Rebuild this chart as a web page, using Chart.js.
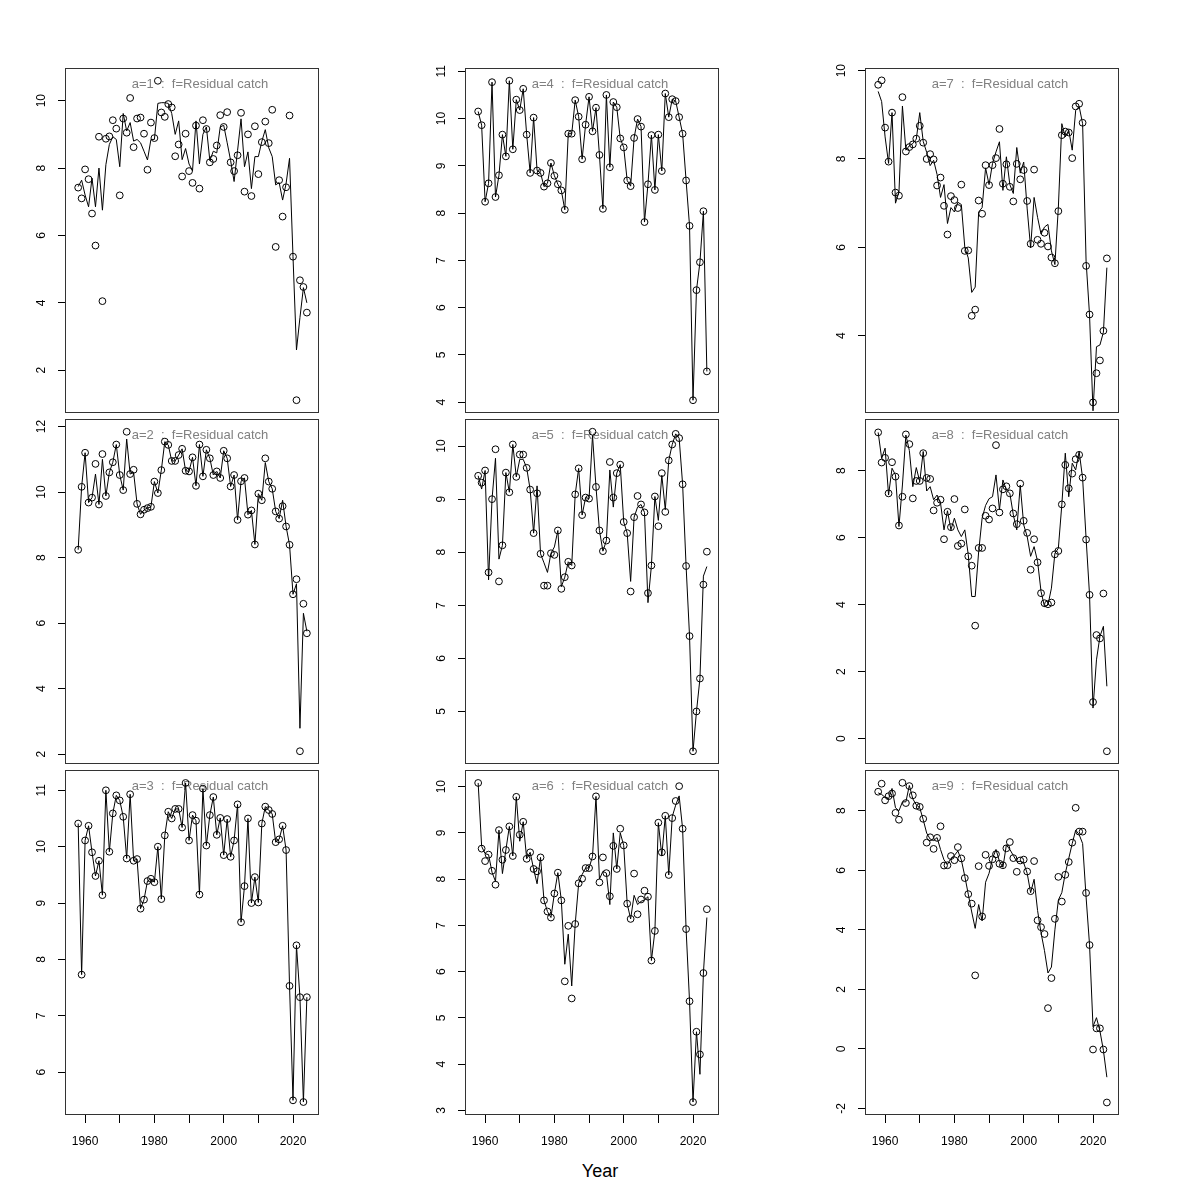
<!DOCTYPE html>
<html>
<head>
<meta charset="utf-8">
<script src="https://cdn.jsdelivr.net/npm/chart.js@4.4.1/dist/chart.umd.min.js"></script>
<style>
  html, body { margin: 0; padding: 0; background: #fff; }
  #page { position: relative; width: 1200px; height: 1200px; overflow: hidden; }
  #page canvas { position: absolute; }
  #xtitle { position: absolute; left: 0; width: 1200px; top: 1161px; text-align: center;
            font: 18px "Liberation Sans", Arial, sans-serif; color: #000; }
</style>
</head>
<body>
<div id="page">
  <div id="xtitle">Year</div>
</div>
<script>
// 年份
const years = [1958, 1959, 1960, 1961, 1962, 1963, 1964, 1965, 1966, 1967,
  1968, 1969, 1970, 1971, 1972, 1973, 1974, 1975, 1976, 1977,
  1978, 1979, 1980, 1981, 1982, 1983, 1984, 1985, 1986, 1987,
  1988, 1989, 1990, 1991, 1992, 1993, 1994, 1995, 1996, 1997,
  1998, 1999, 2000, 2001, 2002, 2003, 2004, 2005, 2006, 2007,
  2008, 2009, 2010, 2011, 2012, 2013, 2014, 2015, 2016, 2017,
  2018, 2019, 2020, 2021, 2022, 2023, 2024];

const xTicks = [1960, 1970, 1980, 1990, 2000, 2010, 2020];
const xLabels = ['1960', '', '1980', '', '2000', '', '2020'];

// a=1
const obs1 = [7.42, 7.10, 7.96, 7.67, 6.65, 5.70, 8.93, 4.05, 8.87, 8.94,
  9.42, 9.17, 7.19, 9.47, 9.05, 10.08, 8.62, 9.47, 9.50, 9.02,
  7.95, 9.35, 8.89, 10.59, 9.65, 9.52, 9.90, 9.80, 8.35, 8.70,
  7.75, 9.02, 7.91, 7.56, 9.26, 7.39, 9.42, 9.16, 8.17, 8.27,
  8.67, 9.57, 9.22, 9.66, 8.17, 7.91, 8.38, 9.64, 7.30, 9.00,
  7.17, 9.24, 7.82, 8.77, 9.38, 8.74, 9.73, 5.66, 7.64, 6.56,
  7.43, 9.56, 5.37, 1.11, 4.67, 4.47, 3.71];
const fit1 = [7.45, 7.64, 7.2, 6.85, 7.7, 6.85, 8.0, 6.75, 8.1, 8.7,
  8.93, 8.85, 8.04, 9.62, 9.1, 9.35, 8.8, 8.85, 8.75, 8.5,
  8.24, 8.85, 8.85, 9.92, 9.94, 9.94, 9.92, 9.62, 9.0, 9.4,
  8.25, 8.58, 8.12, 7.92, 9.4, 8.12, 9.0, 9.22, 8.22, 8.5,
  8.45, 9.22, 9.27, 8.75, 8.22, 7.6, 8.52, 9.46, 8.04, 8.48,
  7.39, 8.34, 8.34, 8.79, 9.14, 8.6, 8.34, 7.5, 7.57, 7.05,
  7.54, 8.29, 5.37, 2.6, 3.56, 4.45, 4.0];

// a=2
const obs2 = [8.24, 10.16, 11.20, 9.68, 9.83, 10.86, 9.62, 11.16, 9.88, 10.60,
  10.91, 11.45, 10.52, 10.06, 11.84, 10.55, 10.68, 9.64, 9.32, 9.46,
  9.51, 9.55, 10.32, 9.97, 10.67, 11.54, 11.44, 10.95, 10.95, 11.13,
  11.32, 10.65, 10.63, 11.06, 10.19, 11.45, 10.48, 11.29, 11.03, 10.52,
  10.63, 10.43, 11.26, 11.03, 10.17, 10.52, 9.15, 10.33, 10.43, 9.31,
  9.44, 8.40, 9.95, 9.75, 11.03, 10.32, 10.10, 9.41, 9.19, 9.57,
  8.95, 8.39, 6.88, 7.34, 2.09, 6.59, 5.69];
const fit2 = [8.24, 10.16, 11.20, 9.68, 9.83, 10.55, 9.62, 11.0, 9.88, 10.60,
  10.91, 11.45, 10.52, 10.06, 11.62, 10.55, 10.60, 9.64, 9.32, 9.46,
  9.51, 9.55, 10.32, 9.97, 10.67, 11.54, 11.44, 10.95, 10.95, 11.13,
  11.32, 10.65, 10.63, 11.06, 10.19, 11.45, 10.48, 11.29, 11.03, 10.52,
  10.63, 10.43, 11.26, 11.03, 10.17, 10.52, 9.15, 10.33, 10.43, 9.31,
  9.44, 8.40, 9.95, 9.75, 10.9, 10.32, 10.10, 9.41, 9.19, 9.75,
  8.95, 8.39, 6.88, 7.2, 2.79, 6.30, 5.75];

// a=3
const obs3 = [10.41, 7.73, 10.11, 10.37, 9.90, 9.48, 9.75, 9.14, 11.00, 9.91,
  10.59, 10.91, 10.82, 10.53, 9.79, 10.93, 9.75, 9.78, 8.90, 9.06,
  9.39, 9.43, 9.37, 10.00, 9.07, 10.20, 10.62, 10.50, 10.67, 10.67,
  10.34, 11.13, 10.11, 10.56, 10.46, 9.15, 11.03, 10.02, 10.56, 10.88,
  10.21, 10.51, 9.85, 10.49, 9.82, 10.11, 10.75, 8.66, 9.30, 10.50,
  9.00, 9.46, 9.01, 10.41, 10.71, 10.65, 10.58, 10.08, 10.13, 10.37,
  9.94, 7.53, 5.50, 8.25, 7.33, 5.47, 7.33];
const fit3 = [10.41, 7.73, 10.11, 10.37, 9.90, 9.48, 9.75, 9.14, 11.00, 9.91,
  10.59, 10.91, 10.82, 10.53, 9.79, 10.93, 9.75, 9.78, 8.90, 9.06,
  9.39, 9.43, 9.37, 10.00, 9.07, 10.20, 10.62, 10.50, 10.67, 10.67,
  10.34, 11.13, 10.11, 10.56, 10.46, 9.15, 11.03, 10.02, 10.56, 10.88,
  10.21, 10.51, 9.85, 10.49, 9.82, 10.11, 10.75, 8.66, 9.30, 10.50,
  9.00, 9.46, 9.01, 10.41, 10.71, 10.65, 10.58, 10.08, 10.13, 10.37,
  9.94, 7.53, 5.50, 8.25, 7.33, 5.47, 7.33];

// a=4
const obs4 = [10.15, 9.86, 8.24, 8.63, 10.77, 8.34, 8.80, 9.66, 9.20, 10.80,
  9.35, 10.40, 10.18, 10.63, 9.66, 8.85, 10.02, 8.90, 8.85, 8.56,
  8.63, 9.06, 8.79, 8.61, 8.48, 8.07, 9.68, 9.68, 10.39, 10.04,
  9.14, 9.87, 10.46, 9.73, 10.23, 9.23, 8.09, 10.50, 8.97, 10.35,
  10.24, 9.58, 9.39, 8.69, 8.57, 9.59, 9.99, 9.83, 7.81, 8.61,
  9.65, 8.49, 9.66, 8.89, 10.53, 10.03, 10.41, 10.37, 10.03, 9.68,
  8.69, 7.73, 4.04, 6.37, 6.96, 8.04, 4.65];
const fit4 = [10.15, 9.86, 8.24, 8.63, 10.77, 8.34, 8.80, 9.66, 9.20, 10.80,
  9.35, 10.40, 10.18, 10.63, 9.66, 8.85, 10.02, 8.90, 8.85, 8.56,
  8.63, 9.06, 8.79, 8.61, 8.48, 8.07, 9.68, 9.68, 10.39, 10.04,
  9.14, 9.87, 10.46, 9.73, 10.23, 9.23, 8.09, 10.50, 8.97, 10.35,
  10.24, 9.58, 9.39, 8.69, 8.57, 9.59, 9.99, 9.83, 7.81, 8.61,
  9.65, 8.49, 9.66, 8.89, 10.53, 10.03, 10.41, 10.37, 10.03, 9.68,
  8.69, 7.73, 4.04, 6.37, 6.96, 8.04, 4.65];

// a=5
const obs5 = [9.44, 9.31, 9.54, 7.62, 9.00, 9.94, 7.45, 8.13, 9.50, 9.13,
  10.03, 9.42, 9.84, 9.84, 9.59, 9.18, 8.36, 9.11, 7.97, 7.37,
  7.37, 7.98, 7.95, 8.41, 7.31, 7.53, 7.82, 7.75, 9.09, 9.58,
  8.70, 9.03, 9.01, 10.27, 9.23, 8.41, 8.02, 8.22, 9.70, 9.03,
  9.49, 9.65, 8.57, 8.36, 7.26, 8.66, 9.06, 8.90, 8.75, 7.23,
  7.75, 9.05, 8.49, 9.49, 8.76, 9.73, 10.03, 10.23, 10.15, 9.28,
  7.74, 6.42, 4.25, 5.00, 5.62, 7.39, 8.01];
const fit5 = [9.44, 9.19, 9.54, 7.48, 9.0, 9.77, 7.87, 8.13, 9.50, 9.13,
  10.03, 9.42, 9.75, 9.75, 9.59, 9.18, 8.36, 9.25, 7.97, 7.8,
  7.62, 7.98, 8.1, 8.41, 7.35, 7.53, 7.82, 7.75, 9.09, 9.58,
  8.70, 9.03, 9.01, 10.2, 9.23, 8.41, 8.02, 8.22, 9.55, 8.85,
  9.49, 9.65, 8.57, 8.36, 7.45, 8.66, 8.85, 8.90, 8.75, 7.05,
  7.75, 9.05, 8.6, 9.45, 8.8, 9.73, 10.03, 10.23, 10.15, 9.28,
  7.74, 6.42, 4.25, 5.00, 5.62, 7.55, 7.73];

// a=6
const obs6 = [10.08, 8.66, 8.39, 8.53, 8.18, 7.88, 9.06, 8.42, 8.63, 9.14,
  8.50, 9.78, 8.96, 9.24, 8.44, 8.58, 8.22, 8.17, 8.47, 7.54,
  7.30, 7.17, 7.69, 8.14, 7.54, 5.79, 6.99, 5.42, 7.03, 7.91,
  8.01, 8.24, 8.24, 8.49, 9.79, 7.93, 8.47, 8.13, 7.63, 8.72,
  8.22, 9.09, 8.73, 7.47, 7.14, 8.12, 7.24, 7.56, 7.75, 7.62,
  6.24, 6.88, 9.22, 8.58, 9.37, 8.09, 9.32, 9.69, 10.01, 9.09,
  6.92, 5.36, 3.18, 4.70, 4.21, 5.97, 7.35];
const fit6 = [10.08, 8.71, 8.55, 8.53, 8.15, 7.95, 9.06, 8.12, 8.63, 9.14,
  8.5, 9.78, 8.82, 9.24, 8.44, 8.58, 8.22, 7.9, 8.47, 7.54,
  7.30, 7.17, 7.69, 8.14, 7.54, 6.16, 6.81, 5.69, 7.03, 7.91,
  8.1, 8.24, 8.24, 8.49, 9.79, 8.0, 8.17, 8.13, 7.45, 9.0,
  8.22, 9.0, 8.73, 7.47, 7.14, 7.65, 7.45, 7.52, 7.55, 7.62,
  6.24, 6.88, 9.22, 8.5, 9.37, 8.09, 9.35, 9.6, 9.8, 9.09,
  6.92, 5.36, 3.18, 4.70, 3.78, 5.97, 7.17];

// a=7
const obs7 = [9.68, 9.78, 8.71, 7.94, 9.05, 7.24, 7.17, 9.40, 8.17, 8.27,
  8.33, 8.46, 8.75, 8.37, 8.00, 8.11, 7.99, 7.40, 7.58, 6.94,
  6.29, 7.16, 7.07, 6.89, 7.42, 5.92, 5.93, 4.45, 4.59, 7.06,
  6.76, 7.86, 7.41, 7.86, 8.02, 8.68, 7.44, 7.88, 7.37, 7.04,
  7.89, 7.54, 7.75, 7.05, 6.08, 7.76, 6.17, 6.08, 6.33, 6.02,
  5.77, 5.64, 6.82, 8.54, 8.62, 8.60, 8.02, 9.19, 9.25, 8.82,
  5.58, 4.48, 2.49, 3.15, 3.44, 4.11, 5.75];
const fit7 = [9.53, 9.3, 8.5, 7.9, 9.05, 7.0, 7.25, 9.2, 8.2, 8.3,
  8.35, 8.45, 9.05, 8.4, 8.15, 7.85, 7.97, 7.65, 7.13, 7.42,
  6.54, 6.9, 6.8, 7.02, 6.97, 6.0, 5.76, 4.98, 5.1, 6.8,
  6.9, 7.8, 7.42, 7.9, 8.16, 8.39, 7.29, 8.05, 7.42, 7.22,
  8.26, 7.68, 7.93, 6.87, 5.99, 7.13, 6.68, 6.3, 6.46, 6.52,
  5.92, 5.61, 6.9, 8.8, 8.5, 8.65, 8.2, 9.1, 9.19, 8.8,
  5.69, 4.47, 2.3, 3.75, 3.79, 4.08, 5.54];

// a=8
const obs8 = [9.14, 8.24, 8.38, 7.32, 8.25, 7.82, 6.36, 7.22, 9.08, 8.79,
  7.17, 7.69, 7.69, 8.52, 7.78, 7.75, 6.81, 7.04, 7.13, 5.95,
  6.77, 6.31, 7.15, 5.75, 5.82, 6.84, 5.44, 5.16, 3.37, 5.69,
  5.69, 6.65, 6.54, 6.87, 8.76, 6.75, 7.44, 7.53, 7.32, 6.72,
  6.40, 7.61, 6.50, 6.14, 5.04, 5.95, 5.26, 4.34, 4.04, 4.01,
  4.06, 5.50, 5.60, 6.99, 8.17, 7.47, 7.91, 8.34, 8.47, 7.79,
  5.94, 4.29, 1.09, 3.09, 2.99, 4.33, -0.38];
const fit8 = [9.14, 8.37, 8.67, 7.27, 8.07, 7.87, 6.33, 7.57, 9.06, 8.6,
  7.52, 8.09, 7.67, 8.57, 7.39, 7.52, 7.13, 7.27, 7.03, 6.23,
  6.8, 6.23, 6.58, 6.23, 6.03, 6.23, 5.49, 4.24, 4.24, 5.58,
  6.58, 6.96, 7.16, 7.22, 7.87, 6.83, 7.72, 7.42, 7.32, 6.68,
  6.23, 7.57, 6.38, 6.03, 5.44, 5.73, 5.29, 4.39, 3.94, 3.99,
  4.49, 5.53, 5.68, 6.98, 8.52, 7.22, 8.22, 8.02, 8.57, 7.77,
  5.98, 4.29, 0.91, 2.35, 3.05, 3.35, 1.56];

// a=9
const obs9 = [8.64, 8.91, 8.35, 8.49, 8.58, 7.93, 7.70, 8.94, 8.26, 8.83,
  8.52, 8.17, 8.13, 7.73, 6.93, 7.11, 6.72, 7.09, 7.48, 6.16,
  6.17, 6.48, 6.34, 6.78, 6.40, 5.74, 5.20, 4.88, 2.47, 6.14,
  4.45, 6.52, 6.15, 6.37, 6.54, 6.22, 6.17, 6.74, 6.95, 6.41,
  5.95, 6.33, 6.36, 5.96, 5.30, 6.31, 4.32, 4.09, 3.86, 1.37,
  2.38, 4.37, 5.78, 4.95, 5.85, 6.28, 6.93, 8.10, 7.30, 7.30,
  5.24, 3.49, -0.02, 0.69, 0.69, -0.02, -1.80];
const fit9 = [8.6, 8.55, 8.45, 8.4, 8.75, 8.1, 8.0, 8.3, 8.3, 8.85,
  8.4, 8.2, 8.1, 7.7, 7.25, 7.05, 7.0, 7.1, 6.7, 6.35,
  6.2, 6.4, 6.5, 6.65, 6.35, 5.8, 5.2, 4.6, 4.05, 4.85,
  4.3, 5.6, 5.9, 6.4, 6.7, 6.3, 6.1, 6.85, 6.7, 6.5,
  6.3, 6.3, 6.25, 5.9, 5.25, 5.7, 4.65, 3.9, 3.3, 2.55,
  2.75, 4.0, 5.0, 5.25, 5.9, 6.4, 6.9, 7.35, 7.2, 6.9,
  5.1, 3.5, 0.75, 1.05, 0.6, -0.05, -0.95];

// 纵轴刻度
const yTicks1 = [2, 4, 6, 8, 10];
const yTicks2 = [2, 4, 6, 8, 10, 12];
const yTicks3 = [6, 7, 8, 9, 10, 11];
const yTicks4 = [4, 5, 6, 7, 8, 9, 10, 11];
const yTicks5 = [5, 6, 7, 8, 9, 10];
const yTicks6 = [3, 4, 5, 6, 7, 8, 9, 10];
const yTicks7 = [4, 6, 8, 10];
const yTicks8 = [0, 2, 4, 6, 8];
const yTicks9 = [-2, 0, 2, 4, 6, 8];

const panels = [
  { age: 1, obs: obs1, fit: fit1, ticks: yTicks1, yMin: 0.73, yMax: 10.97 },
  { age: 2, obs: obs2, fit: fit2, ticks: yTicks2, yMin: 1.70, yMax: 12.23 },
  { age: 3, obs: obs3, fit: fit3, ticks: yTicks3, yMin: 5.24, yMax: 11.36 },
  { age: 4, obs: obs4, fit: fit4, ticks: yTicks4, yMin: 3.77, yMax: 11.07 },
  { age: 5, obs: obs5, fit: fit5, ticks: yTicks5, yMin: 4.01, yMax: 10.51 },
  { age: 6, obs: obs6, fit: fit6, ticks: yTicks6, yMin: 2.90, yMax: 10.36 },
  { age: 7, obs: obs7, fit: fit7, ticks: yTicks7, yMin: 2.25, yMax: 10.06 },
  { age: 8, obs: obs8, fit: fit8, ticks: yTicks8, yMin: -0.76, yMax: 9.54 },
  { age: 9, obs: obs9, fit: fit9, ticks: yTicks9, yMin: -2.22, yMax: 9.37 }
];

// 布局
const colLeft = [65, 465, 865];
const rowTop = [68, 419, 770];
const boxW = 254;
const boxH = 345;
const yAxisW = 40;
const pad = 5;
const xAxisH = 40;
const FONT = '"Liberation Sans", Arial, Helvetica, sans-serif';

Chart.defaults.font.family = FONT;
Chart.defaults.color = '#000';

// 边框 + 标题 + 纵轴标签
const panelDecor = {
  id: 'panelDecor',
  beforeDatasetsDraw(chart, args, opts) {
    const { ctx, chartArea } = chart;
    ctx.save();
    ctx.fillStyle = '#808080';
    ctx.font = '13px ' + FONT;
    ctx.textAlign = 'center';
    ctx.textBaseline = 'middle';
    ctx.fillText(opts.title, (chartArea.left + chartArea.right) / 2 + 8, chartArea.top + 16);
    ctx.restore();
  },
  afterDraw(chart, args, opts) {
    const { ctx, chartArea } = chart;
    const yScale = chart.scales.y;
    ctx.save();
    ctx.strokeStyle = '#333';
    ctx.lineWidth = 1;
    ctx.strokeRect(chartArea.left + 0.5, chartArea.top + 0.5,
      chartArea.right - chartArea.left - 1, chartArea.bottom - chartArea.top - 1);
    ctx.fillStyle = '#000';
    ctx.font = '12px ' + FONT;
    ctx.textAlign = 'center';
    ctx.textBaseline = 'middle';
    yScale.ticks.forEach(t => {
      const py = yScale.getPixelForValue(t.value);
      ctx.save();
      ctx.translate(chartArea.left - 23, py);
      ctx.rotate(-Math.PI / 2);
      ctx.fillText(String(t.value), 0, 0);
      ctx.restore();
    });
    ctx.restore();
  }
};

const page = document.getElementById('page');

panels.forEach((p, i) => {
  const col = Math.floor(i / 3);
  const row = i % 3;
  const bottomRow = row === 2;
  const xh = bottomRow ? xAxisH : 0;

  const canvas = document.createElement('canvas');
  const W = boxW + yAxisW + pad;
  const H = boxH + pad * 2 + xh;
  canvas.width = W;
  canvas.height = H;
  canvas.style.width = W + 'px';
  canvas.style.height = H + 'px';
  canvas.style.left = (colLeft[col] - yAxisW) + 'px';
  canvas.style.top = (rowTop[row] - pad) + 'px';
  page.appendChild(canvas);

  new Chart(canvas.getContext('2d'), {
    type: 'line',
    data: {
      datasets: [
        {
          label: 'obs',
          data: years.map((y, k) => ({ x: y, y: p.obs[k] })),
          showLine: false,
          pointRadius: 3.4,
          pointBorderWidth: 1,
          pointBorderColor: '#000',
          pointBackgroundColor: 'rgba(0,0,0,0)',
          borderColor: '#000'
        },
        {
          label: 'fit',
          data: years.map((y, k) => ({ x: y, y: p.fit[k] })),
          borderColor: '#000',
          borderWidth: 1,
          pointRadius: 0,
          tension: 0,
          fill: false
        }
      ]
    },
    options: {
      responsive: false,
      animation: false,
      devicePixelRatio: 1,
      layout: { padding: { left: 0, right: pad, top: pad, bottom: pad } },
      plugins: {
        legend: { display: false },
        tooltip: { enabled: false },
        panelDecor: { title: `a=${p.age}  :  f=Residual catch` }
      },
      scales: {
        x: {
          type: 'linear',
          min: 1954.2,
          max: 2027.5,
          afterFit: s => { s.height = xh; },
          afterBuildTicks: s => { s.ticks = xTicks.map(v => ({ value: v })); },
          border: { display: false },
          grid: {
            drawOnChartArea: false,
            drawTicks: bottomRow,
            tickLength: 8,
            color: '#000',
            lineWidth: 1
          },
          ticks: {
            display: bottomRow,
            autoSkip: false,
            maxRotation: 0,
            padding: 11,
            font: { size: 12 },
            color: '#000',
            callback: v => xLabels[xTicks.indexOf(v)] ?? ''
          }
        },
        y: {
          type: 'linear',
          min: p.yMin,
          max: p.yMax,
          afterFit: s => { s.width = yAxisW; },
          afterBuildTicks: s => { s.ticks = p.ticks.map(v => ({ value: v })); },
          border: { display: false },
          grid: {
            drawOnChartArea: false,
            drawTicks: true,
            tickLength: 7,
            color: '#000',
            lineWidth: 1
          },
          ticks: { display: false }
        }
      }
    },
    plugins: [panelDecor]
  });
});
</script>
</body>
</html>
